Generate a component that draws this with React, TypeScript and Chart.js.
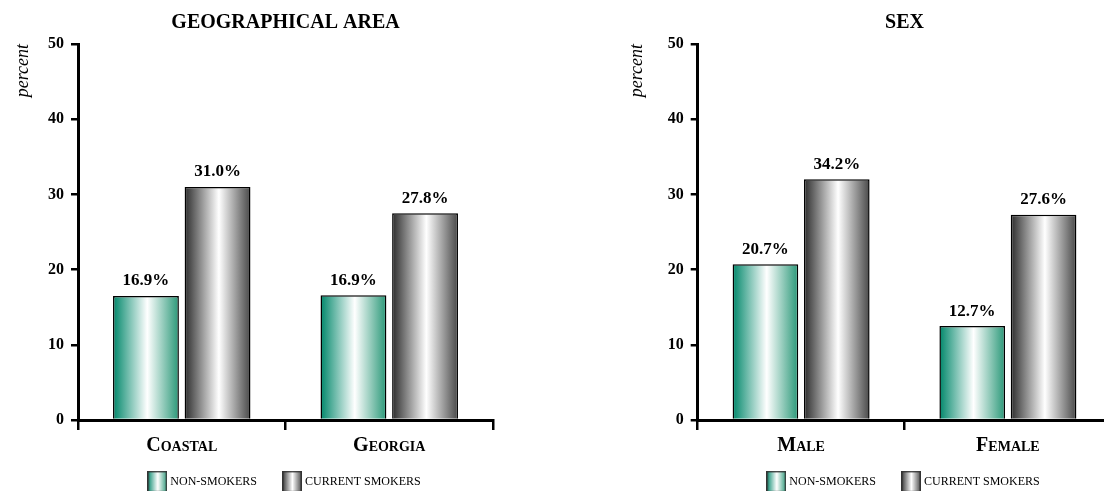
import React, { useEffect, useRef } from 'react';
import { Chart, registerables } from 'chart.js';

Chart.register(...registerables);
Chart.defaults.font.family = '"Liberation Serif", "Times New Roman", serif';
Chart.defaults.color = '#000';

// ---- data ----
const seriesNames = ['NON-SMOKERS', 'CURRENT SMOKERS'];

const geoTitle = 'GEOGRAPHICAL AREA';
const geoCategories = ['Coastal', 'Georgia'];
const geoNonSmokers = [16.5, 16.6];
const geoCurrentSmokers = [31.0, 27.5];
const geoNonLabels = ['16.9%', '16.9%'];
const geoCurrentLabels = ['31.0%', '27.8%'];

const sexTitle = 'SEX';
const sexCategories = ['Male', 'Female'];
const sexNonSmokers = [20.7, 12.5];
const sexCurrentSmokers = [32.0, 27.3];
const sexNonLabels = ['20.7%', '12.7%'];
const sexCurrentLabels = ['34.2%', '27.6%'];

const yAxisTitle = 'percent';
const yMin = 0;
const yMax = 50;
const yStep = 10;

// ---- styles ----
const GREEN_STOPS: [number, string][] = [
  [0, '#00876a'],
  [0.52, '#ffffff'],
  [1, '#2a9878'],
];
const GRAY_STOPS: [number, string][] = [
  [0, '#2c2c2c'],
  [0.52, '#ffffff'],
  [1, '#484848'],
];
const STOPS = [GREEN_STOPS, GRAY_STOPS];

function makeSwatch(stops: [number, string][]) {
  const c = document.createElement('canvas');
  c.width = 20;
  c.height = 22;
  const g = c.getContext('2d')!;
  const grad = g.createLinearGradient(0, 0, 20, 0);
  stops.forEach(([o, col]) => grad.addColorStop(o, col));
  g.fillStyle = grad;
  g.fillRect(0, 0, 20, 22);
  g.strokeStyle = '#333';
  g.lineWidth = 1.5;
  g.strokeRect(0.75, 0.75, 18.5, 20.5);
  return c;
}

const gradientPlugin = {
  id: 'barGradient',
  beforeDatasetsDraw(chart: any) {
    const ctx = chart.ctx;
    chart.data.datasets.forEach((_: any, di: number) => {
      const meta = chart.getDatasetMeta(di);
      meta.data.forEach((el: any) => {
        const x0 = el.x - el.width / 2;
        const x1 = el.x + el.width / 2;
        const g = ctx.createLinearGradient(x0, 0, x1, 0);
        STOPS[di].forEach(([o, col]) => g.addColorStop(o, col));
        el.options = Object.assign({}, el.options, { backgroundColor: g });
      });
    });
  },
};

function makeLabelPlugin(labels: string[][]) {
  return {
    id: 'barLabels',
    afterDatasetsDraw(chart: any) {
      const ctx = chart.ctx;
      ctx.save();
      ctx.font = 'bold 17px "Liberation Serif", "Times New Roman", serif';
      ctx.fillStyle = '#000';
      ctx.textAlign = 'center';
      ctx.textBaseline = 'alphabetic';
      chart.data.datasets.forEach((_: any, di: number) => {
        chart.getDatasetMeta(di).data.forEach((el: any, i: number) => {
          ctx.fillText(labels[di][i], el.x, el.y - 10.5);
        });
      });
      ctx.restore();
    },
  };
}

type PanelProps = {
  left: number;
  width: number;
  title: string;
  categories: string[];
  non: number[];
  current: number[];
  labels: string[][];
  padLeft: number;
  padRight: number;
  yTitlePad: number;
};

function Panel(p: PanelProps) {
  const ref = useRef<HTMLCanvasElement>(null);
  useEffect(() => {
    const swatches = STOPS.map((s) => makeSwatch(s));
    const chart = new Chart(ref.current as HTMLCanvasElement, {
      type: 'bar',
      data: {
        labels: p.categories,
        datasets: [
          {
            label: seriesNames[0],
            data: p.non,
            backgroundColor: '#00876a',
            borderColor: '#000',
            borderWidth: 1.5,
            categoryPercentage: 0.69,
            barPercentage: 0.92,
          },
          {
            label: seriesNames[1],
            data: p.current,
            backgroundColor: '#444',
            borderColor: '#000',
            borderWidth: 1.5,
            categoryPercentage: 0.69,
            barPercentage: 0.92,
          },
        ],
      },
      options: {
        responsive: false,
        animation: false,
        layout: { padding: { left: p.padLeft, right: p.padRight, top: 0, bottom: 2.3 } },
        plugins: {
          title: {
            display: true,
            text: p.title,
            fullSize: false,
            color: '#000',
            font: { size: 20, weight: 'bold' },
            padding: { top: 10.5, bottom: 9.5 },
          },
          legend: {
            position: 'bottom',
            fullSize: false,
            labels: {
              usePointStyle: true,
              pointStyleWidth: 14,
              padding: 28,
              color: '#000',
              font: { size: 12 },
              generateLabels: (chart: any) =>
                chart.data.datasets.map((ds: any, i: number) => ({
                  text: ds.label,
                  pointStyle: swatches[i],
                  fillStyle: 'rgba(0,0,0,0)',
                  strokeStyle: 'rgba(0,0,0,0)',
                  lineWidth: 0,
                  hidden: false,
                  datasetIndex: i,
                  fontColor: '#000',
                })),
            },
          },
          tooltip: { enabled: false },
        },
        scales: {
          x: {
            z: 1,
            grid: {
              offset: true,
              drawOnChartArea: false,
              tickLength: 10,
              lineWidth: 2.5,
              color: '#000',
            },
            border: { color: '#000', width: 3 },
            ticks: {
              color: '#000',
              padding: 4,
              font: { size: 20, weight: 'small-caps bold' as any },
            },
            afterFit: (s: any) => {
              s.height = 27.7;
              // let the category labels overflow the (deliberately short) scale box
              s._computeLabelArea = () => undefined;
            },
          },
          y: {
            z: 1,
            min: yMin,
            max: yMax,
            ticks: {
              stepSize: yStep,
              color: '#000',
              padding: 7,
              font: { size: 16, weight: 'bold' },
            },
            grid: {
              drawOnChartArea: false,
              tickLength: 7,
              lineWidth: 2.5,
              color: '#000',
            },
            border: { color: '#000', width: 3 },
            title: {
              display: true,
              text: yAxisTitle,
              align: 'end',
              color: '#000',
              font: { size: 18, style: 'italic', weight: 'normal' },
              padding: { top: p.yTitlePad, bottom: 0 },
            },
            afterFit: (s: any) => {
              s.width = 78;
            },
          },
        },
      } as any,
      plugins: [gradientPlugin, makeLabelPlugin(p.labels)],
    });
    return () => chart.destroy();
  }, []);
  return (
    <div style={{ position: 'absolute', left: p.left, top: 0, width: p.width, height: 500 }}>
      <canvas ref={ref} width={p.width} height={500} style={{ display: 'block' }} />
    </div>
  );
}

export default function App() {
  return (
    <div
      style={{
        position: 'absolute',
        left: 0,
        top: 0,
        width: 1104,
        height: 491,
        overflow: 'hidden',
        background: '#fff',
      }}
    >
      <Panel
        left={0}
        width={552}
        title={geoTitle}
        categories={geoCategories}
        non={geoNonSmokers}
        current={geoCurrentSmokers}
        labels={[geoNonLabels, geoCurrentLabels]}
        padLeft={0}
        padRight={59}
        yTitlePad={12}
      />
      <Panel
        left={560}
        width={560}
        title={sexTitle}
        categories={sexCategories}
        non={sexNonSmokers}
        current={sexCurrentSmokers}
        labels={[sexNonLabels, sexCurrentLabels]}
        padLeft={59.7}
        padRight={8.7}
        yTitlePad={7}
      />
    </div>
  );
}
